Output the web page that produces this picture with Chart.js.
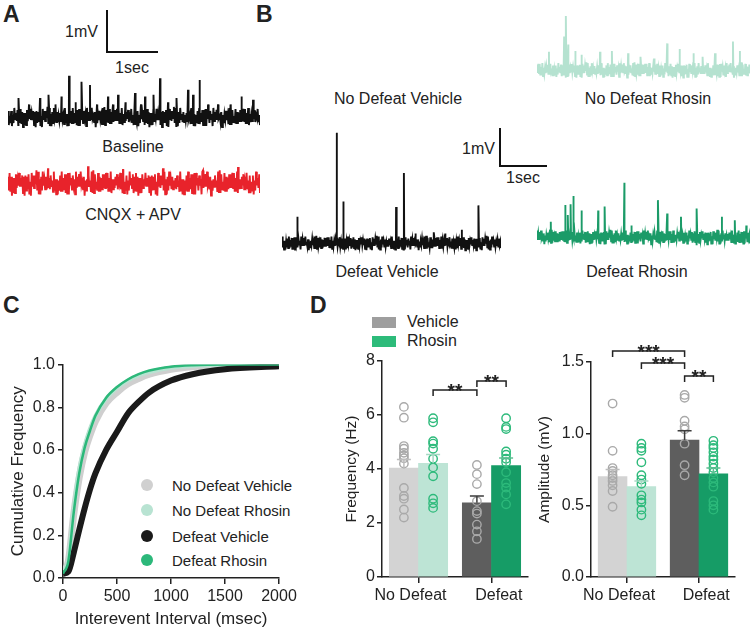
<!DOCTYPE html>
<html>
<head>
<meta charset="utf-8">
<script src="https://cdn.jsdelivr.net/npm/chart.js@4.4.1/dist/chart.umd.min.js"></script>
<style>
body{margin:0;width:750px;height:628px;position:relative;background:#fff;font-family:"Liberation Sans",Arial,sans-serif;color:#222;overflow:hidden}
canvas{position:absolute}
.t{position:absolute;white-space:nowrap;font-size:16px;line-height:1;transform:translate(-50%,-50%)}
.r{transform:translate(-100%,-50%)}
.l{transform:translate(0,-50%)}
.pl{position:absolute;font-weight:bold;font-size:23px;line-height:1}
.sb{position:absolute;border-left:2px solid #111;border-bottom:2px solid #111}
.dot{position:absolute;width:12px;height:12px;border-radius:50%;transform:translate(-50%,-50%)}
.sw{position:absolute;width:24px;height:11px}
</style>
</head>
<body>
<div class="pl" style="left:3px;top:3px">A</div>
<div class="pl" style="left:256px;top:3px">B</div>
<div class="pl" style="left:3px;top:294px">C</div>
<div class="pl" style="left:310px;top:294px">D</div>

<div class="sb" style="left:106px;top:10px;width:50px;height:41px"></div>
<div class="t r" style="left:98px;top:32px">1mV</div>
<div class="t" style="left:132px;top:68px">1sec</div>
<div class="t" style="left:133px;top:147px">Baseline</div>
<div class="t" style="left:133px;top:215px">CNQX + APV</div>

<div class="sb" style="left:499px;top:128px;width:46px;height:37px"></div>
<div class="t r" style="left:495px;top:149px">1mV</div>
<div class="t" style="left:523px;top:178px">1sec</div>
<div class="t" style="left:398px;top:99px">No Defeat Vehicle</div>
<div class="t" style="left:648px;top:99px">No Defeat Rhosin</div>
<div class="t" style="left:387px;top:272px">Defeat Vehicle</div>
<div class="t" style="left:637px;top:272px">Defeat Rhosin</div>

<div class="dot" style="left:147px;top:485px;background:#d0d0d0"></div>
<div class="dot" style="left:147px;top:510px;background:#b8e3d2"></div>
<div class="dot" style="left:147px;top:536px;background:#1a1a1a"></div>
<div class="dot" style="left:147px;top:560px;background:#2cb87a"></div>
<div class="t l" style="left:172px;top:485px;font-size:15px">No Defeat Vehicle</div>
<div class="t l" style="left:172px;top:510px;font-size:15px">No Defeat Rhosin</div>
<div class="t l" style="left:172px;top:536px;font-size:15px">Defeat Vehicle</div>
<div class="t l" style="left:172px;top:560px;font-size:15px">Defeat Rhosin</div>

<div class="sw" style="left:372px;top:317px;background:#9e9e9e"></div>
<div class="sw" style="left:372px;top:336px;background:#2dbb7a"></div>
<div class="t l" style="left:407px;top:322px;font-size:16px">Vehicle</div>
<div class="t l" style="left:407px;top:341px;font-size:16px">Rhosin</div>

<canvas id="trBase" width="252" height="65" style="left:8px;top:70px"></canvas>
<canvas id="trCnqx" width="252" height="45" style="left:8px;top:160px"></canvas>
<canvas id="trNdr" width="213" height="75" style="left:537px;top:10px"></canvas>
<canvas id="trDv" width="219" height="130" style="left:282px;top:125px"></canvas>
<canvas id="trDr" width="213" height="75" style="left:537px;top:175px"></canvas>
<canvas id="cum" width="300" height="276" style="left:0px;top:352px"></canvas>
<canvas id="freq" width="205" height="283" style="left:330px;top:345px"></canvas>
<canvas id="amp" width="218" height="293" style="left:532px;top:335px"></canvas>

<script>
// ---- traces (time in sec, amplitude in mV) ----
const NOISE = [
  0.6,-0.8,0.3,-0.5,0.9,-0.4,0.2,-0.9,0.7,-0.3, 0.5,-0.7,0.8,-0.2,0.4,-1.0,0.6,-0.5,0.3,-0.8,
  0.9,-0.6,0.1,-0.4,0.7,-0.9,0.5,-0.3,0.8,-0.6, 0.2,-0.7,0.6,-0.5,1.0,-0.4,0.3,-0.8,0.5,-0.2,
  0.7,-0.9,0.4,-0.6,0.8,-0.3,0.2,-0.7,0.9,-0.5, 0.4,-0.8,0.6,-0.1,0.5,-0.9,0.7,-0.4,0.3,-0.6,
  0.8,-0.5,0.2,-1.0,0.6,-0.3,0.9,-0.7,0.4,-0.2, 0.5,-0.8,0.7,-0.4,0.1,-0.6,0.8,-0.9,0.3,-0.5,
  0.6,-0.2,0.9,-0.7,0.4,-0.8,0.2,-0.4,0.7,-0.6, 1.0,-0.5,0.3,-0.9,0.5,-0.3,0.8,-0.7,0.2,-0.6,
  0.4,-0.8,0.6,-0.2,0.9,-0.5,0.3,-1.0,0.7,-0.4, 0.5,-0.6,0.8,-0.3,0.1,-0.9,0.6,-0.7,0.4,-0.2,
  0.9,-0.5,0.3,-0.8,0.7,-0.4,0.5,-0.6,0.2,-0.9, 0.8,-0.3,0.6,-0.7,0.4,-0.1,0.9,-0.8,0.5,-0.4,
  0.3,-0.6,0.7,-0.9,0.2,-0.5,0.8,-0.2,0.6,-0.7, 0.4,-1.0,0.5,-0.3,0.9,-0.6,0.1,-0.8,0.7,-0.5
];
const baselineSpikes = [[0.21,0.45],[0.42,0.3],[0.64,0.45],[0.81,0.53],[0.95,0.3],[1.07,0.49],[1.22,0.98],[1.35,0.35],[1.47,0.84],[1.64,0.76],[1.78,0.3],[2.0,0.49],[2.1,0.3],[2.2,0.53],[2.35,0.35],[2.54,0.57],[2.66,0.3],[2.74,0.49],[2.91,0.53],[3.04,0.92],[3.2,0.35],[3.37,0.45],[3.6,0.65],[3.7,0.53],[3.83,0.88],[4.0,0.3],[4.2,0.3],[4.45,0.3],[4.67,0.49],[4.9,0.41]];
const cnqxSpikes = [[0.8,0.35],[1.6,0.4],[2.3,0.33],[3.1,0.35],[3.9,0.3],[4.6,0.38]];
const ndrSpikes = [[0.26,0.48],[0.59,0.88],[0.63,1.42],[0.68,0.67],[0.83,0.5],[0.97,0.4],[1.37,0.48],[1.63,0.5],[1.98,0.44],[2.25,0.35],[2.55,0.3],[2.83,0.7],[3.1,0.55],[3.4,0.44],[3.6,0.35],[3.87,0.44],[4.26,0.75],[4.41,0.5]];
const dvSpikes = [[0.33,0.69],[1.19,2.9],[1.33,1.09],[2.48,0.95],[2.65,1.84],[2.9,0.25],[3.3,0.28],[3.55,0.25],[3.91,0.35],[4.27,0.99]];
const drSpikes = [[0.3,0.4],[0.61,0.84],[0.67,0.58],[0.73,0.86],[0.79,1.08],[0.97,0.7],[1.33,0.7],[1.47,0.8],[1.9,1.43],[2.05,0.3],[2.63,0.97],[2.83,0.62],[3.13,0.53],[3.47,0.75],[4.02,0.53],[4.3,0.44],[4.55,0.3]];

// ---- panel C: cumulative distribution ----
const cumX = [0, 50, 100, 150, 200, 250, 300, 400, 500, 600, 700, 800, 1000, 1200, 1500, 2000];
const cumNDV = [0.03, 0.08, 0.30, 0.47, 0.59, 0.67, 0.735, 0.82, 0.87, 0.91, 0.935, 0.955, 0.978, 0.99, 0.997, 1.0];
const cumNDR = [0.03, 0.09, 0.33, 0.51, 0.62, 0.70, 0.76, 0.84, 0.89, 0.925, 0.95, 0.965, 0.985, 0.994, 0.998, 1.0];
const cumDV  = [0.02, 0.03, 0.12, 0.225, 0.325, 0.415, 0.49, 0.60, 0.685, 0.77, 0.825, 0.87, 0.925, 0.955, 0.978, 0.992];
const cumDR  = [0.02, 0.08, 0.31, 0.49, 0.61, 0.69, 0.76, 0.845, 0.895, 0.93, 0.955, 0.972, 0.99, 0.997, 1.0, 1.0];
const cumTicksX = [0, 500, 1000, 1500, 2000];

// ---- panel D: bar groups (order: NDV, NDR, DV, DR) ----
const groups = ['No Defeat', 'Defeat'];
const freqMean = [4.03, 4.21, 2.75, 4.13];
const freqSem = [0.32, 0.33, 0.25, 0.28];
const freqNDV = [6.3, 5.9, 4.85, 4.75, 4.6, 4.5, 4.4, 4.2, 3.3, 3.0, 2.9, 2.5, 2.2];
const freqNDR = [5.88, 5.73, 5.03, 4.94, 4.75, 4.38, 4.06, 3.73, 2.9, 2.73, 2.56];
const freqDV  = [4.15, 3.81, 3.44, 2.81, 2.44, 2.35, 1.94, 1.69, 1.41];
const freqDR  = [5.88, 5.56, 5.48, 4.65, 4.53, 4.38, 4.25, 3.88, 3.48, 3.31, 3.06, 2.69];
const freqBrackets = [[1, 2, 6.93, '**'], [2, 3, 7.26, '**']];

const ampMean = [0.70, 0.63, 0.956, 0.72];
const ampSem = [0.05, 0.04, 0.065, 0.04];
const ampNDV = [1.21, 0.88, 0.76, 0.74, 0.71, 0.69, 0.67, 0.64, 0.6, 0.49];
const ampNDR = [0.93, 0.9, 0.88, 0.80, 0.71, 0.68, 0.65, 0.57, 0.54, 0.52, 0.47, 0.43];
const ampDV  = [1.27, 1.25, 1.09, 1.05, 1.03, 0.93, 0.78, 0.71];
const ampDR  = [0.95, 0.92, 0.9, 0.87, 0.84, 0.82, 0.79, 0.76, 0.73, 0.69, 0.66, 0.63, 0.53, 0.5, 0.47];
const ampBrackets = [[0, 2, 1.577, '***'], [1, 2, 1.493, '***'], [2, 3, 1.402, '**']];

Chart.defaults.font.family = '"Liberation Sans", Arial, sans-serif';
Chart.defaults.color = '#222';

const base = {animation: false, responsive: false, events: [], layout: {autoPadding: false, padding: 0},
  plugins: {legend: {display: false}, tooltip: {enabled: false}}};

// walks the hand-typed noise list in a scrambled order (odd stride keeps the +/- alternation)
function traceData(dur, amp, spikes, offset) {
  const n = NOISE.length, pts = [];
  for (let i = 0; i < 2 * n; i++) pts.push({x: dur * i / (2 * n - 1), y: amp * NOISE[(i * 37 + offset) % n]});
  spikes.forEach(s => pts.push({x: s[0], y: s[1]}));
  return pts.sort((a, b) => a.x - b.x);
}

// pxSec / pxMv: scale bar sizes, zeroY: pixel of the trace baseline inside the canvas
function trace(id, spikes, amp, offset, color, pxSec, pxMv, zeroY) {
  const c = document.getElementById(id);
  const dur = c.width / pxSec;
  new Chart(c, {
    type: 'line',
    data: {datasets: [{data: traceData(dur, amp, spikes, offset), borderColor: color, borderWidth: 1.9, pointRadius: 0, tension: 0}]},
    options: Object.assign({}, base, {scales: {
      x: {type: 'linear', display: false, min: 0, max: dur},
      y: {display: false, min: -(c.height - zeroY) / pxMv, max: zeroY / pxMv}
    }})
  });
}

trace('trBase', baselineSpikes, 0.24, 0, '#111', 50, 42, 47);
trace('trCnqx', cnqxSpikes, 0.3, 38, '#e8232b', 50, 42, 23);
trace('trNdr', ndrSpikes, 0.2, 72, '#b5e2d0', 46, 38, 60);
trace('trDv', dvSpikes, 0.19, 104, '#111', 46, 38, 118);
trace('trDr', drSpikes, 0.19, 20, '#1b9b68', 46, 38, 62);

const axisLine = {color: '#222', width: 1.5};
const tickGrid = {drawOnChartArea: false, tickLength: 6, color: '#222', lineWidth: 1.5};

new Chart(document.getElementById('cum'), {
  type: 'line',
  data: {datasets: [
    {label: 'No Defeat Vehicle', data: cumX.map((x, i) => ({x, y: cumNDV[i]})), borderColor: '#cfcfcf', borderWidth: 7, order: 3},
    {label: 'No Defeat Rhosin', data: cumX.map((x, i) => ({x, y: cumNDR[i]})), borderColor: '#b8e3d2', borderWidth: 4, order: 2},
    {label: 'Defeat Vehicle', data: cumX.map((x, i) => ({x, y: cumDV[i]})), borderColor: '#1a1a1a', borderWidth: 6, order: 1},
    {label: 'Defeat Rhosin', data: cumX.map((x, i) => ({x, y: cumDR[i]})), borderColor: '#2cb87a', borderWidth: 2.5, order: 0}
  ]},
  options: Object.assign({}, base, {
    layout: {autoPadding: false, padding: {top: 10, right: 21, left: 0, bottom: 0}},
    elements: {point: {radius: 0}, line: {cubicInterpolationMode: 'monotone'}},
    scales: {
      x: {type: 'linear', min: 0, max: 2000, afterBuildTicks: s => { s.ticks = cumTicksX.map(v => ({value: v})); },
        ticks: {font: {size: 16}, padding: 3, maxRotation: 0, callback: v => String(v)}, grid: tickGrid, border: axisLine,
        title: {display: true, text: 'Interevent Interval (msec)', font: {size: 17, lineHeight: 1}, padding: {top: 0, bottom: 0}},
        afterFit: s => { s.height = 50; }},
      y: {min: 0, max: 1, ticks: {stepSize: 0.2, font: {size: 16}, padding: 3, callback: v => v.toFixed(1)},
        grid: Object.assign({}, tickGrid, {tickLength: 5}), border: axisLine,
        title: {display: true, text: 'Cumulative Frequency', font: {size: 17}, padding: {top: 8, bottom: 0}},
        afterFit: s => { s.width = 63; }}
    }
  })
});

// bar centres on the 0..4 x scale (two groups, tick marks at 1 and 3)
const GROUP_X = [0.6, 1.4, 2.6, 3.4];
const GROUP_TICKS = [1, 3];
const LABEL_X = [0.78, 3.2];
const BAR_FILL = ['#d3d3d3', '#bde4d5', '#5e5e5e', '#169c66'];
const DOT_COLOR = ['#a9a9a9', '#2dba7b', '#a9a9a9', '#2dba7b'];
const ERR_COLOR = ['#bdbdbd', '#a6d8c3', '#3d3d3d', '#5fbf93'];

function marks(means, sems, brackets) {
  return {
    id: 'marks',
    afterDatasetsDraw(chart) {
      const {ctx, scales: {x, y}} = chart;
      ctx.save();
      ctx.lineWidth = 1.5;
      means.forEach((m, i) => {
        const px = x.getPixelForValue(GROUP_X[i]);
        const y0 = y.getPixelForValue(m), y1 = y.getPixelForValue(m + sems[i]);
        ctx.strokeStyle = ERR_COLOR[i];
        ctx.beginPath();
        ctx.moveTo(px, y0); ctx.lineTo(px, y1);
        ctx.moveTo(px - 7, y1); ctx.lineTo(px + 7, y1);
        ctx.stroke();
      });
      ctx.strokeStyle = '#222';
      ctx.fillStyle = '#222';
      ctx.font = 'bold 19px "Liberation Sans", Arial';
      ctx.textAlign = 'center';
      brackets.forEach(b => {
        const xa = x.getPixelForValue(GROUP_X[b[0]]), xb = x.getPixelForValue(GROUP_X[b[1]]);
        const yy = y.getPixelForValue(b[2]);
        ctx.beginPath();
        ctx.moveTo(xa, yy + 6); ctx.lineTo(xa, yy); ctx.lineTo(xb, yy); ctx.lineTo(xb, yy + 6);
        ctx.stroke();
        ctx.fillText(b[3], (xa + xb) / 2, yy + 7);
      });
      ctx.restore();
    }
  };
}

function groupChart(id, pts, means, sems, yMax, yStep, dec, yTitle, brackets, pad, yWidth, titlePad) {
  const datasets = [{
    type: 'bar', data: GROUP_X.map((gx, i) => ({x: gx, y: means[i]})), backgroundColor: BAR_FILL,
    grouped: false, categoryPercentage: 1, barPercentage: 1, order: 2
  }];
  pts.forEach((arr, i) => datasets.push({
    type: 'scatter', data: arr.map(v => ({x: GROUP_X[i], y: v})),
    pointRadius: 4.2, pointBorderWidth: 1.4, pointBorderColor: DOT_COLOR[i], pointBackgroundColor: 'rgba(0,0,0,0)', order: 1
  }));
  new Chart(document.getElementById(id), {
    type: 'bar',
    data: {datasets},
    options: Object.assign({}, base, {
      layout: {autoPadding: false, padding: pad},
      scales: {
        x: {type: 'linear', min: 0, max: 4, offset: false, weight: 0,
          afterBuildTicks: s => { s.ticks = GROUP_TICKS.map(v => ({value: v})); },
          ticks: {display: false}, grid: Object.assign({}, tickGrid, {offset: false}), border: axisLine,
          afterFit: s => { s.height = 6; }},
        xl: {type: 'linear', position: 'bottom', min: 0, max: 4, offset: false, weight: 1,
          afterBuildTicks: s => { s.ticks = LABEL_X.map(v => ({value: v})); },
          ticks: {font: {size: 16}, padding: 3, maxRotation: 0, autoSkip: false, callback: (v, i) => groups[i]},
          grid: {display: false, drawTicks: false}, border: {display: false},
          afterFit: s => { s.height = 45; }},
        y: {min: 0, max: yMax, ticks: {stepSize: yStep, font: {size: 16}, padding: 2, callback: v => v.toFixed(dec)},
          grid: Object.assign({}, tickGrid, {tickLength: 5}), border: axisLine,
          title: {display: true, text: yTitle, font: {size: 15.5}, padding: {top: titlePad, bottom: 0}},
          afterFit: s => { s.width = yWidth; }}
      }
    }),
    plugins: [marks(means, sems, brackets)]
  });
}

groupChart('freq', [freqNDV, freqNDR, freqDV, freqDR], freqMean, freqSem, 8, 2, 0, 'Frequency (Hz)', freqBrackets,
  {top: 16, right: 7, left: 0, bottom: 0}, 52, 12.7);
groupChart('amp', [ampNDV, ampNDR, ampDV, ampDR], ampMean, ampSem, 1.5, 0.5, 1, 'Amplitude (mV)', ampBrackets,
  {top: 27, right: 15, left: 0, bottom: 0}, 59, 3.7);
</script>
</body>
</html>
